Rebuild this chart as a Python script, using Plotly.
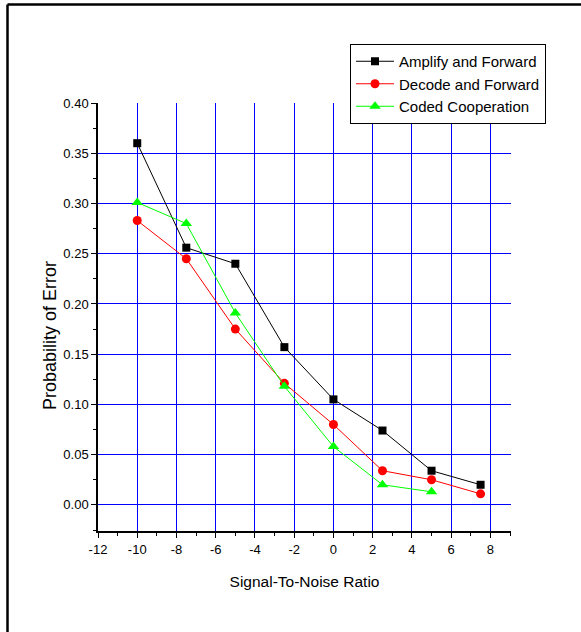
import plotly.graph_objects as go

snr_af = [-10, -7.5, -5, -2.5, 0, 2.5, 5, 7.5]
pe_af = [0.360, 0.256, 0.240, 0.157, 0.105, 0.074, 0.034, 0.020]

snr_df = [-10, -7.5, -5, -2.5, 0, 2.5, 5, 7.5]
pe_df = [0.283, 0.245, 0.175, 0.121, 0.080, 0.034, 0.025, 0.011]

snr_cc = [-10, -7.5, -5, -2.5, 0, 2.5, 5]
pe_cc = [0.301, 0.280, 0.191, 0.118, 0.058, 0.020, 0.013]

names = ["Amplify and Forward", "Decode and Forward", "Coded Cooperation"]

x_tickvals = [-12, -10, -8, -6, -4, -2, 0, 2, 4, 6, 8]
x_ticktext = ["-12", "-10", "-8", "-6", "-4", "-2", "0", "2", "4", "6", "8"]

W, H = 581, 632
L, R, T, B = 98, 70, 103, 101
pw, ph = W - L - R, H - T - B
FONT = "Liberation Sans, Arial, sans-serif"

fig = go.Figure()
fig.add_trace(go.Scatter(x=snr_af, y=pe_af, name=names[0], mode="lines+markers",
                         line=dict(color="black", width=1),
                         marker=dict(symbol="square", size=8, color="black")))
fig.add_trace(go.Scatter(x=snr_df, y=pe_df, name=names[1], mode="lines+markers",
                         line=dict(color="red", width=1),
                         marker=dict(symbol="circle", size=9, color="red")))
fig.add_trace(go.Scatter(x=snr_cc, y=pe_cc, name=names[2], mode="lines+markers",
                         line=dict(color="#00ff00", width=1),
                         marker=dict(symbol="triangle-up", size=10, color="#00ff00")))

fig.update_layout(
    width=W, height=H,
    margin=dict(l=L, r=R, t=T, b=B),
    paper_bgcolor="white", plot_bgcolor="white",
    font=dict(family=FONT, size=13, color="black"),
    showlegend=True,
    legend=dict(x=(350 - L) / pw, y=(H - B - 44) / ph, xanchor="left", yanchor="top",
                bordercolor="black", borderwidth=1, bgcolor="white",
                font=dict(size=15, family=FONT, color="black"),
                tracegroupgap=0, itemwidth=38),
    xaxis=dict(range=[-12, 9.05], tickmode="array", tickvals=x_tickvals, ticktext=x_ticktext,
               showgrid=True, gridcolor="blue", gridwidth=1, zeroline=False,
               showline=True, linecolor="black", linewidth=2,
               ticks="outside", ticklen=5, tickwidth=1, tickcolor="black",
               minor=dict(tickmode="linear", tick0=-12, dtick=1, ticks="outside",
                          ticklen=3, tickcolor="black", showgrid=False),
               tickfont=dict(size=13),
               title=dict(text="Signal-To-Noise Ratio", font=dict(size=15.5), standoff=21)),
    yaxis=dict(range=[-0.026, 0.40], dtick=0.05, tick0=0, tickformat=".2f",
               showgrid=True, gridcolor="blue", gridwidth=1, zeroline=False,
               showline=True, linecolor="black", linewidth=1.5,
               ticks="outside", ticklen=5, tickwidth=1, tickcolor="black",
               minor=dict(dtick=0.025, ticks="outside", ticklen=3, tickcolor="black", showgrid=False),
               tickfont=dict(size=13)),
)

# y-axis title (placed as rotated text, lower than plot centre as in reference)
fig.add_annotation(text="Probability of Error", textangle=-90, showarrow=False,
                   xref="paper", yref="paper", x=(50 - L) / pw, y=(H - B - 336) / ph,
                   xanchor="center", yanchor="middle", font=dict(size=18, family=FONT, color="black"))

# outer frame lines (left and top edges of the image)
fig.add_shape(type="line", xref="paper", yref="paper",
              x0=(7.5 - L) / pw, x1=(W + 5 - L) / pw,
              y0=(H - B - 4.5) / ph, y1=(H - B - 4.5) / ph,
              line=dict(color="black", width=2.5))
fig.add_shape(type="line", xref="paper", yref="paper",
              x0=(7.5 - L) / pw, x1=(7.5 - L) / pw,
              y0=(H - B - 4.5) / ph, y1=(H - B - H - 5) / ph,
              line=dict(color="black", width=2.5))

fig.write_html("out.html")
